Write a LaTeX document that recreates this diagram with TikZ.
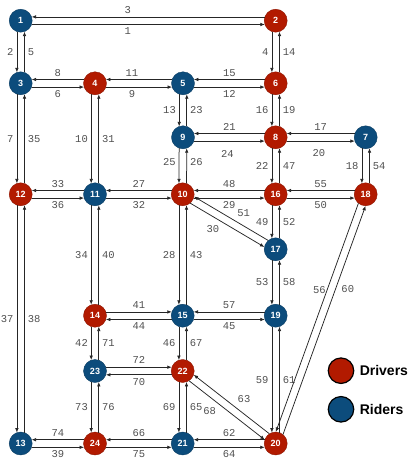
\documentclass[tikz,border=0pt]{standalone}
\usepackage{fontspec}
\setmainfont{Liberation Sans}
\newfontfamily\lanefont{Liberation Mono}
\usepackage{tikz}
\usetikzlibrary{calc, arrows.meta, positioning}

\definecolor{driverred}{RGB}{178,26,0}
\definecolor{riderblue}{RGB}{12,76,124}
\definecolor{lanegray}{RGB}{80,80,80}

\tikzset{
    station/.style={circle, minimum size=23pt, inner sep=0pt, line width=0.4pt,
        text=white, font=\bfseries\fontsize{9}{9}\selectfont},
    driver/.style={station, fill=driverred, draw=driverred!80!black},
    rider/.style={station, fill=riderblue, draw=riderblue!80!black},
    lane/.style={->, draw=black!85, line width=0.75pt, shorten >=10.9pt, shorten <=10.9pt},
    lanelabel/.style={font=\lanefont\fontsize{10.5}{10.5}\selectfont, text=lanegray, inner sep=3pt},
    legendkey/.style={circle, minimum size=25.5pt, inner sep=0pt, draw=black, line width=1.2pt},
    legendtext/.style={inner sep=0pt, font=\bfseries\fontsize{14}{14}\selectfont}
}

% Làn đường: xe đi bên phải (roadR) hoặc bên trái (roadL)
\newcommand{\laneoff}{3.8pt}
\newcommand{\roadR}[4][0.5]{\draw[lane] ($(#2)!\laneoff!-90:(#3)$) -- node[lanelabel, auto=right, pos=#1] {#4} ($(#3)!\laneoff!90:(#2)$);}
\newcommand{\roadL}[4][0.5]{\draw[lane] ($(#2)!\laneoff!90:(#3)$) -- node[lanelabel, auto=left, pos=#1] {#4} ($(#3)!\laneoff!-90:(#2)$);}

\begin{document}
\begin{tikzpicture}[x=1pt, y=-1pt, >={Latex[length=4.5pt,width=3.6pt]}]
            \useasboundingbox (0,0) rectangle (415,471);

            % Các điểm
            \foreach \i/\x/\y/\s in {1/20.7/20.7/rider, 2/275.7/20.7/driver,
                3/20.7/83.3/rider, 4/95/83.3/driver, 5/183/83.3/rider, 6/275.7/83.3/driver,
                9/183/137.3/rider, 8/275.7/137.3/driver, 7/365.7/137.3/rider,
                12/20.7/194.3/driver, 11/95/194.3/rider, 10/182.7/194.3/driver,
                16/275.7/194.3/driver, 18/365.7/194.3/driver, 17/275.7/249.3/rider,
                14/95/315.7/driver, 15/182.7/315.7/rider, 19/275.7/315.7/rider,
                23/95/371/rider, 22/182.7/371/driver,
                13/20.7/443.5/rider, 24/95/443.5/driver, 21/182.7/443.5/rider, 20/275.7/443.5/driver}
                \node[\s] (n\i) at (\x,\y) {\i};

            % Hàng ngang
            \roadR[0.42]{n1}{n2}{1}    \roadR[0.58]{n2}{n1}{3}
            \roadR{n3}{n4}{6}          \roadR{n4}{n3}{8}
            \roadR[0.42]{n4}{n5}{9}    \roadR[0.58]{n5}{n4}{11}
            \roadR{n5}{n6}{12}         \roadR{n6}{n5}{15}
            \roadR[0.48, yshift=-6pt]{n9}{n8}{24} \roadR{n8}{n9}{21}
            \roadR[0.48, yshift=-5pt]{n8}{n7}{20} \roadR{n7}{n8}{17}
            \roadR{n12}{n11}{36}       \roadR{n11}{n12}{33}
            \roadR{n11}{n10}{32}       \roadR{n10}{n11}{27}
            \roadR{n10}{n16}{29}       \roadR{n16}{n10}{48}
            \roadR{n16}{n18}{50}       \roadR{n18}{n16}{55}
            \roadL{n14}{n15}{41}       \roadL{n15}{n14}{44}
            \roadR{n15}{n19}{45}       \roadR{n19}{n15}{57}
            \roadL{n23}{n22}{72}       \roadL{n22}{n23}{70}
            \roadR{n13}{n24}{39}       \roadR{n24}{n13}{74}
            \roadR{n24}{n21}{75}       \roadR{n21}{n24}{66}
            \roadR{n21}{n20}{64}       \roadR{n20}{n21}{62}

            % Hàng dọc
            \roadR{n1}{n3}{2}          \roadR{n3}{n1}{5}
            \roadR{n2}{n6}{4}          \roadR{n6}{n2}{14}
            \roadR{n5}{n9}{13}         \roadR{n9}{n5}{23}
            \roadR{n6}{n8}{16}         \roadR{n8}{n6}{19}
            \roadR{n3}{n12}{7}         \roadR{n12}{n3}{35}
            \roadR{n4}{n11}{10}        \roadR{n11}{n4}{31}
            \roadR[0.43]{n9}{n10}{25}  \roadR[0.57]{n10}{n9}{26}
            \roadR{n8}{n16}{22}        \roadR{n16}{n8}{47}
            \roadR{n7}{n18}{18}        \roadR{n18}{n7}{54}
            \roadR{n16}{n17}{49}       \roadR{n17}{n16}{52}
            \roadR{n12}{n13}{37}       \roadR{n13}{n12}{38}
            \roadR{n11}{n14}{34}       \roadR{n14}{n11}{40}
            \roadR{n10}{n15}{28}       \roadR{n15}{n10}{43}
            \roadR{n17}{n19}{53}       \roadR{n19}{n17}{58}
            \roadR{n14}{n23}{42}       \roadR{n23}{n14}{71}
            \roadR{n15}{n22}{46}       \roadR{n22}{n15}{67}
            \roadR{n19}{n20}{59}       \roadR{n20}{n19}{61}
            \roadR{n23}{n24}{73}       \roadR{n24}{n23}{76}
            \roadR{n22}{n21}{69}       \roadR{n21}{n22}{65}

            % Đường chéo
            \roadR[0.45]{n10}{n17}{30} \roadR[0.47]{n17}{n10}{51}
            \roadR[0.42]{n22}{n20}{68} \roadR[0.47]{n20}{n22}{63}
            \roadR[0.4, xshift=3pt, yshift=-4pt]{n18}{n20}{56}
            \roadR[0.62, xshift=3pt, yshift=8pt]{n20}{n18}{60}

            % Chú thích
            \node[legendkey, fill=driverred] (drvkey) at (341,370.7) {};
            \node[legendtext, right=5.2pt of drvkey] (drvtext) {Drivers};
            \node[legendkey, fill=riderblue] (rdrkey) at (341,409.3) {};
            \node[legendtext, right=5.2pt of rdrkey] (rdrtext) {Riders};
        \end{tikzpicture}
\end{document}
